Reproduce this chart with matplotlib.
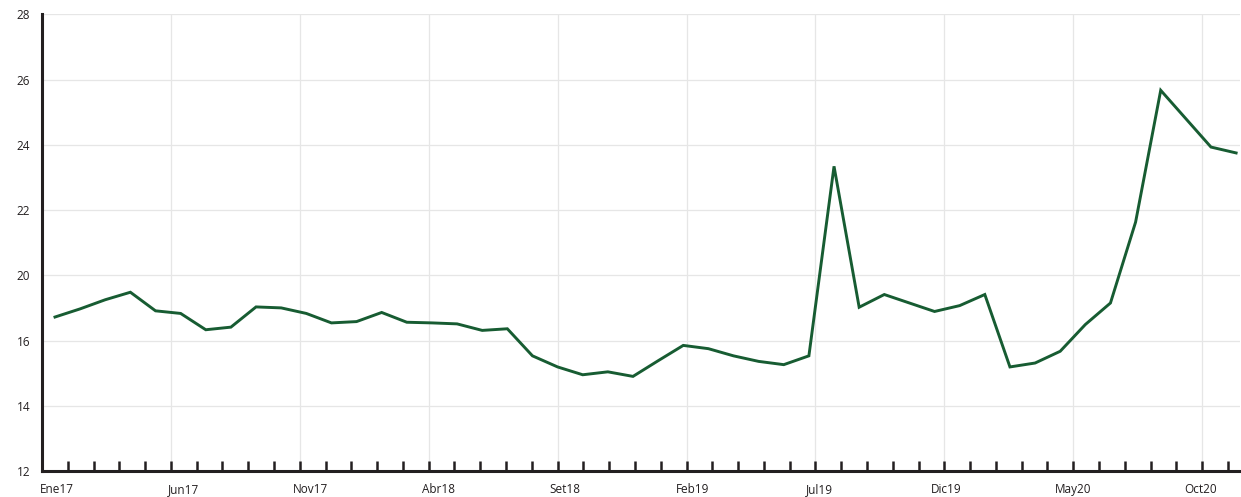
import matplotlib
matplotlib.use("Agg")
import matplotlib.pyplot as plt

plt.rcParams['font.family'] = ['Open Sans', 'DejaVu Sans']

# Monthly series, Ene17 .. Dic20
months = list(range(48))
values = [18.72, 18.97, 19.25, 19.48, 18.91, 18.83, 18.33, 18.41, 19.03, 19.00,
          18.83, 18.54, 18.58, 18.86, 18.56, 18.54, 18.51, 18.31, 18.36, 17.53,
          17.19, 16.95, 17.04, 16.90, 17.38, 17.85, 17.75, 17.53, 17.36, 17.26,
          17.53, 23.34, 19.02, 19.41, 19.15, 18.89, 19.07, 19.41, 17.19, 17.31,
          17.67, 18.49, 19.15, 21.63, 25.67, 24.80, 23.93, 23.75]

x_labels = ["Ene17", "Jun17", "Nov17", "Abr18", "Set18",
            "Feb19", "Jul19", "Dic19", "May20", "Oct20"]
label_months = [0, 5, 10, 15, 20, 25, 30, 35, 40, 45]

y_ticks = [14, 16, 18, 20, 22, 24, 26, 28]
y_labels = ["12", "14", "16", "20", "22", "24", "26", "28"]

dark = "#231f20"
green = "#175c32"
grid_c = "#e6e6e6"

fig = plt.figure(figsize=(12.41, 4.97), dpi=100)
ax = fig.add_axes([42 / 1241, 26 / 497, 1198 / 1241, 456.7 / 497])

# base axis: grid + monthly tick marks
ax.set_xlim(0, 1198 / 25.78)
ax.set_ylim(14, 28)
ax.set_xticks(label_months)
ax.set_xticks(range(47), minor=True)
ax.tick_params(axis='x', which='both', direction='in', length=7.2, width=1.8,
               color=dark, labelbottom=False)
ax.set_yticks(y_ticks)
ax.set_yticklabels(y_labels)
ax.tick_params(axis='y', length=0, pad=8.5, labelsize=8.5, labelcolor=dark)
ax.grid(True, which='major', color=grid_c, linewidth=0.9)
ax.set_axisbelow(True)
for s in ['top', 'right']:
    ax.spines[s].set_visible(False)
for s in ['left', 'bottom']:
    ax.spines[s].set_color(dark)
    ax.spines[s].set_linewidth(2.2)

# line drawn on its own x scale
ax_line = ax.twiny()
ax_line.set_xlim(-13 / 25.13, (1198 - 13) / 25.13)
ax_line.plot(months, values, color=green, linewidth=2.1, solid_joinstyle='miter')
ax_line.set_ylim(ax.get_ylim())
ax_line.axis('off')

# month labels on their own scale
ax_lab = ax.twiny()
ax_lab.set_xlim(-14.7 / 25.42, (1198 - 14.7) / 25.42)
ax_lab.xaxis.set_ticks_position('bottom')
ax_lab.set_xticks(label_months)
ax_lab.set_xticklabels(x_labels)
ax_lab.tick_params(axis='x', length=0, pad=8.5, labelsize=8.5, labelcolor=dark)
for s in ax_lab.spines.values():
    s.set_visible(False)

fig.savefig("out.png", dpi=100)
